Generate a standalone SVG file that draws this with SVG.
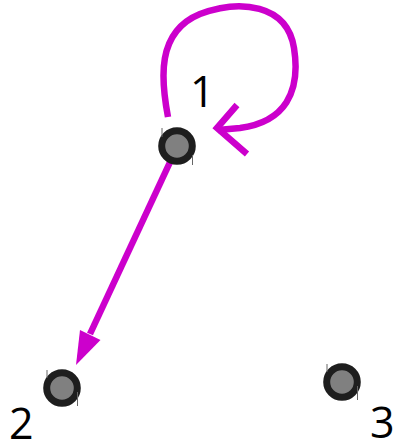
<svg xmlns="http://www.w3.org/2000/svg" width="395" height="446" viewBox="0 0 395 446">
<style>
.node circle{fill:#808080;stroke:#1e1e1e;stroke-width:7}
.tick{stroke:#666;stroke-width:1}
.lbl{font-family:"Open Sans","Noto Sans",sans-serif;font-size:43px;fill:#000}
.edge{fill:none;stroke:#cc00cc;stroke-width:6.5}
.head{fill:#cc00cc}
</style>
<g id="connectors">
<path class="edge" d="M168,117 C161,80 156,32 200,14 C240,-1 287,4 294,48 C301,92 285,122 240,128 L218,130"/>
<path class="edge" d="M237,105 L217,128 L247,154"/>
<path class="edge" d="M171,160 L90,334"/>
<polygon class="head" points="76,365 100.5,340 80,330"/>
</g>
<g id="node1" class="node">
<circle cx="177" cy="146" r="15.3"/>
<line class="tick" x1="162" y1="128" x2="162" y2="137"/>
<line class="tick" x1="192.5" y1="155" x2="192.5" y2="165"/>
<text class="lbl" x="190" y="107">1</text>
</g>
<g id="node2" class="node">
<circle cx="62" cy="388" r="15.3"/>
<line class="tick" x1="47" y1="370" x2="47" y2="378"/>
<line class="tick" x1="77.5" y1="392" x2="77.5" y2="406"/>
<text class="lbl" x="9" y="439">2</text>
</g>
<g id="node3" class="node">
<circle cx="342" cy="382" r="15.3"/>
<line class="tick" x1="327" y1="364" x2="327" y2="372"/>
<line class="tick" x1="357.5" y1="386" x2="357.5" y2="400"/>
<text class="lbl" x="370" y="438">3</text>
</g>
</svg>
